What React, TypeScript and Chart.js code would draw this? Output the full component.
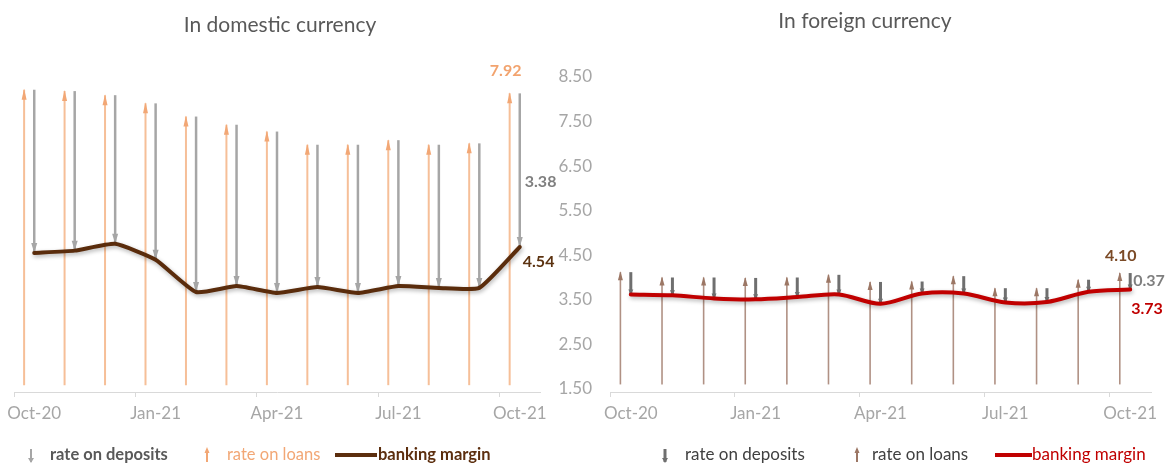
import React, { useEffect, useRef } from "react";
import { Chart, registerables } from "chart.js";

Chart.register(...registerables);

const FONT = "Lato, 'Open Sans', sans-serif";

// ---------- data ----------
const months = [
  "Oct-20", "Nov-20", "Dec-20", "Jan-21", "Feb-21", "Mar-21", "Apr-21",
  "May-21", "Jun-21", "Jul-21", "Aug-21", "Sep-21", "Oct-21",
];

const domesticLoans = [8.0, 7.97, 7.88, 7.7, 7.41, 7.23, 7.08, 6.79, 6.79, 6.89, 6.79, 6.82, 7.92];
const domesticDeposits = [3.59, 3.51, 3.27, 3.44, 3.86, 3.55, 3.55, 3.13, 3.26, 3.21, 3.15, 3.18, 3.38];
const domesticMargin = [4.41, 4.46, 4.61, 4.26, 3.55, 3.68, 3.53, 3.66, 3.53, 3.68, 3.64, 3.64, 4.54];

const foreignLoans = [4.12, 4.0, 4.0, 3.99, 4.0, 4.06, 3.9, 3.91, 4.03, 3.76, 3.76, 3.95, 4.1];
const foreignDeposits = [0.5, 0.4, 0.47, 0.48, 0.44, 0.44, 0.49, 0.27, 0.39, 0.32, 0.31, 0.27, 0.37];
const foreignMargin = [3.62, 3.6, 3.53, 3.51, 3.56, 3.62, 3.41, 3.64, 3.64, 3.44, 3.45, 3.68, 3.73];

const foreignAxisTicks = [1.5, 2.5, 3.5, 4.5, 5.5, 6.5, 7.5, 8.5];

const legendTexts = ["rate on deposits", "rate on loans", "banking margin"];
const titles = ["In domestic currency", "In foreign currency"];

// ---------- styling ----------
type LegendItem = {
  kind: "down" | "up" | "line";
  symX: number;
  symX2?: number;
  textX: number;
  text: string;
  color: string;
  symColor: string;
  weight: string;
  symW: number;
};

type ValueLabel = {
  anchor: "loanTop" | "depMid" | "lineEnd";
  text: string;
  color: string;
  dx: number;
  dy: number;
  align: "left" | "center";
};

type Panel = {
  canvasLeft: number;
  width: number;
  title: string;
  titleX: number;
  titleY: number;
  loans: number[];
  deposits: number[];
  margin: number[];
  base: number;
  yMin: number;
  yMax: number;
  yTicks: number[] | null;
  pad: { left: number; right: number; top: number; bottom: number };
  yWidth: number;
  loanColor: string;
  loanHeadColor: string;
  loanThick: number;
  loanHead: [number, number];
  depColor: string;
  depThick: number;
  depHead: [number, number];
  lineColor: string;
  lineWidth: number;
  tension: number;
  labels: ValueLabel[];
  legend: LegendItem[];
  legendSize: number;
  legendY: number;
};

const last = months.length - 1;

const panels: Panel[] = [
  {
    canvasLeft: 0,
    width: 560,
    title: titles[0],
    titleX: 280,
    titleY: 25,
    loans: domesticLoans,
    deposits: domesticDeposits,
    margin: domesticMargin,
    base: 1.5,
    yMin: 1.35,
    yMax: 8.5,
    yTicks: null,
    pad: { left: 14, right: 20, top: 67, bottom: 41 },
    yWidth: 0,
    loanColor: "#f6bf98",
    loanHeadColor: "#f2a775",
    loanThick: 2,
    loanHead: [5, 10],
    depColor: "#a6a6a6",
    depThick: 2.5,
    depHead: [6, 10],
    lineColor: "#5a2c0c",
    lineWidth: 4,
    tension: 0.15,
    labels: [
      { anchor: "loanTop", text: domesticLoans[last].toFixed(2), color: "#f2a36e", dx: -4, dy: -23, align: "center" },
      { anchor: "depMid", text: domesticDeposits[last].toFixed(2), color: "#7f7f7f", dx: 5, dy: 12, align: "left" },
      { anchor: "lineEnd", text: domesticMargin[last].toFixed(2), color: "#5c3311", dx: 3, dy: 15, align: "left" },
    ],
    legend: [
      { kind: "down", symX: 31, textX: 50, text: legendTexts[0], color: "#595959", symColor: "#a6a6a6", weight: "bold", symW: 2 },
      { kind: "up", symX: 207, textX: 227, text: legendTexts[1], color: "#f2a775", symColor: "#f2a775", weight: "normal", symW: 2 },
      { kind: "line", symX: 335, symX2: 377, textX: 378, text: legendTexts[2], color: "#5c2e0e", symColor: "#5c2e0e", weight: "bold", symW: 4 },
    ],
    legendSize: 16.5,
    legendY: 455,
  },
  {
    canvasLeft: 545,
    width: 621,
    title: titles[1],
    titleX: 320,
    titleY: 21,
    loans: foreignLoans,
    deposits: foreignDeposits,
    margin: foreignMargin,
    base: 1.6,
    yMin: 1.43,
    yMax: 8.5,
    yTicks: foreignAxisTicks,
    pad: { left: 0, right: 15, top: 77, bottom: 41 },
    yWidth: 65,
    loanColor: "#b09184",
    loanHeadColor: "#9c7765",
    loanThick: 1.6,
    loanHead: [5, 8],
    depColor: "#6f6f6f",
    depThick: 3,
    depHead: [5, 5],
    lineColor: "#c00000",
    lineWidth: 4,
    tension: 0.3,
    labels: [
      { anchor: "loanTop", text: foreignLoans[last].toFixed(2), color: "#7b4a26", dx: 1, dy: -17, align: "center" },
      { anchor: "depMid", text: foreignDeposits[last].toFixed(2), color: "#7f7f7f", dx: 3, dy: 0, align: "left" },
      { anchor: "lineEnd", text: foreignMargin[last].toFixed(2), color: "#c00000", dx: 1, dy: 19, align: "left" },
    ],
    legend: [
      { kind: "down", symX: 665 - 545, textX: 685 - 545, text: legendTexts[0], color: "#404040", symColor: "#6f6f6f", weight: "normal", symW: 3 },
      { kind: "up", symX: 857 - 545, textX: 872 - 545, text: legendTexts[1], color: "#404040", symColor: "#9c7765", weight: "normal", symW: 2 },
      { kind: "line", symX: 995 - 545, symX2: 1032 - 545, textX: 1032 - 545, text: legendTexts[2], color: "#c00000", symColor: "#c00000", weight: "normal", symW: 4 },
    ],
    legendSize: 17,
    legendY: 455,
  },
];

function makePlugin(p: Panel) {
  return {
    id: "panelDecor",
    beforeDatasetDraw(chart: any, args: any) {
      if (args.index === 3) {
        const c = chart.ctx;
        c.save();
        c.shadowColor = "rgba(0,0,0,0.3)";
        c.shadowBlur = 4;
        c.shadowOffsetX = 1;
        c.shadowOffsetY = 2;
      }
    },
    afterDatasetDraw(chart: any, args: any) {
      const c = chart.ctx;
      if (args.index === 3) {
        c.restore();
        return;
      }
      if (args.index === 0 || args.index === 1) {
        const up = args.index === 0;
        const [hw, hh] = up ? p.loanHead : p.depHead;
        c.save();
        c.fillStyle = up ? p.loanHeadColor : p.depColor;
        args.meta.data.forEach((el: any) => {
          const top = Math.min(el.y, el.base);
          const bot = Math.max(el.y, el.base);
          c.beginPath();
          if (up) {
            c.moveTo(el.x, top - 1);
            c.lineTo(el.x - hw / 2, top + hh);
            c.lineTo(el.x + hw / 2, top + hh);
          } else {
            c.moveTo(el.x, bot);
            c.lineTo(el.x - hw / 2, bot - hh);
            c.lineTo(el.x + hw / 2, bot - hh);
          }
          c.closePath();
          c.fill();
        });
        c.restore();
      }
    },
    afterDraw(chart: any) {
      const c = chart.ctx;
      c.save();
      // title
      c.font = `normal 21px ${FONT}`;
      c.fillStyle = "#595959";
      c.textAlign = "center";
      c.textBaseline = "middle";
      c.fillText(p.title, p.titleX, p.titleY);

      // value labels
      const loanEl: any = chart.getDatasetMeta(0).data[last];
      const depEl: any = chart.getDatasetMeta(1).data[last];
      const lineEl: any = chart.getDatasetMeta(3).data[last];
      c.font = `bold 16px ${FONT}`;
      p.labels.forEach((l) => {
        let x = 0;
        let y = 0;
        if (l.anchor === "loanTop") {
          x = loanEl.x;
          y = Math.min(loanEl.y, loanEl.base);
        } else if (l.anchor === "depMid") {
          x = depEl.x;
          y = (depEl.y + depEl.base) / 2;
        } else {
          x = lineEl.x;
          y = lineEl.y;
        }
        c.fillStyle = l.color;
        c.textAlign = l.align;
        c.fillText(l.text, x + l.dx, y + l.dy);
      });

      // legend
      p.legend.forEach((it) => {
        const y = p.legendY;
        c.strokeStyle = it.symColor;
        c.fillStyle = it.symColor;
        c.lineWidth = it.symW;
        if (it.kind === "line") {
          c.beginPath();
          c.moveTo(it.symX, y);
          c.lineTo(it.symX2 as number, y);
          c.stroke();
        } else {
          c.beginPath();
          c.moveTo(it.symX, y - 6);
          c.lineTo(it.symX, y + 7);
          c.stroke();
          c.beginPath();
          if (it.kind === "down") {
            c.moveTo(it.symX, y + 8);
            c.lineTo(it.symX - 3, y + 3);
            c.lineTo(it.symX + 3, y + 3);
          } else {
            c.moveTo(it.symX, y - 8);
            c.lineTo(it.symX - 2.5, y - 2);
            c.lineTo(it.symX + 2.5, y - 2);
          }
          c.closePath();
          c.fill();
        }
        c.font = `${it.weight} ${p.legendSize}px ${FONT}`;
        c.fillStyle = it.color;
        c.textAlign = "left";
        c.textBaseline = "middle";
        c.fillText(it.text, it.textX, y);
      });
      c.restore();
    },
  };
}

function makeChart(canvas: HTMLCanvasElement, p: Panel) {
  const showY = p.yTicks !== null;
  return new Chart(canvas, {
    type: "bar",
    data: {
      labels: months,
      datasets: [
        {
          type: "bar",
          label: legendTexts[1],
          data: months.map((_, i) => [p.base, p.loans[i]]) as any,
          backgroundColor: p.loanColor,
          maxBarThickness: p.loanThick,
          barPercentage: 1,
          categoryPercentage: 0.75,
        },
        {
          type: "bar",
          label: legendTexts[0],
          data: months.map((_, i) => [p.margin[i], p.margin[i] + p.deposits[i]]) as any,
          backgroundColor: p.depColor,
          maxBarThickness: p.depThick,
          barPercentage: 1,
          categoryPercentage: 0.75,
        },
        {
          type: "bar",
          label: "",
          data: months.map(() => null) as any,
          backgroundColor: "rgba(0,0,0,0)",
          barPercentage: 1,
          categoryPercentage: 0.75,
        },
        {
          type: "line",
          label: legendTexts[2],
          data: p.margin,
          borderColor: p.lineColor,
          borderWidth: p.lineWidth,
          pointRadius: 0,
          tension: p.tension,
          order: -1,
          borderCapStyle: "round",
          borderJoinStyle: "round",
        } as any,
      ],
    },
    options: {
      responsive: false,
      animation: false,
      events: [],
      layout: { padding: p.pad },
      plugins: {
        legend: { display: false },
        tooltip: { enabled: false },
        title: { display: false },
      },
      scales: {
        x: {
          offset: true,
          grid: {
            offset: true,
            drawOnChartArea: false,
            drawTicks: true,
            tickLength: 5,
            color: (ctx: any) =>
              typeof ctx.index === "number" && ctx.index % 3 === 0 && ctx.index <= last
                ? "#d9d9d9"
                : "rgba(0,0,0,0)",
          },
          border: { display: true, color: "#d9d9d9" },
          ticks: {
            autoSkip: false,
            maxRotation: 0,
            padding: 6,
            color: "#a6a6a6",
            font: { family: FONT, size: 17 },
            callback: (_v: any, i: number) => (i % 3 === 0 ? months[i] : ""),
          },
          afterFit: (scale: any) => {
            scale.height = 30;
          },
        },
        y: {
          display: showY,
          min: p.yMin,
          max: p.yMax,
          grid: { display: false, drawTicks: false },
          border: { display: false },
          ticks: {
            padding: 18,
            color: "#a6a6a6",
            font: { family: FONT, size: 17 },
            callback: (v: any) => Number(v).toFixed(2),
          },
          afterBuildTicks: (scale: any) => {
            if (p.yTicks) scale.ticks = p.yTicks.map((v) => ({ value: v }));
          },
          afterFit: (scale: any) => {
            if (showY) scale.width = p.yWidth;
          },
        },
      },
    } as any,
    plugins: [makePlugin(p)],
  });
}

export default function App() {
  const leftRef = useRef<HTMLCanvasElement>(null);
  const rightRef = useRef<HTMLCanvasElement>(null);

  useEffect(() => {
    const charts: Chart[] = [];
    if (leftRef.current) charts.push(makeChart(leftRef.current, panels[0]));
    if (rightRef.current) charts.push(makeChart(rightRef.current, panels[1]));
    return () => charts.forEach((ch) => ch.destroy());
  }, []);

  return (
    <div
      style={{
        position: "absolute",
        left: 0,
        top: 0,
        width: 1166,
        height: 463,
        background: "#ffffff",
        overflow: "hidden",
      }}
    >
      <canvas
        ref={leftRef}
        width={panels[0].width}
        height={463}
        style={{ position: "absolute", left: panels[0].canvasLeft, top: 0 }}
      />
      <canvas
        ref={rightRef}
        width={panels[1].width}
        height={463}
        style={{ position: "absolute", left: panels[1].canvasLeft, top: 0 }}
      />
    </div>
  );
}
